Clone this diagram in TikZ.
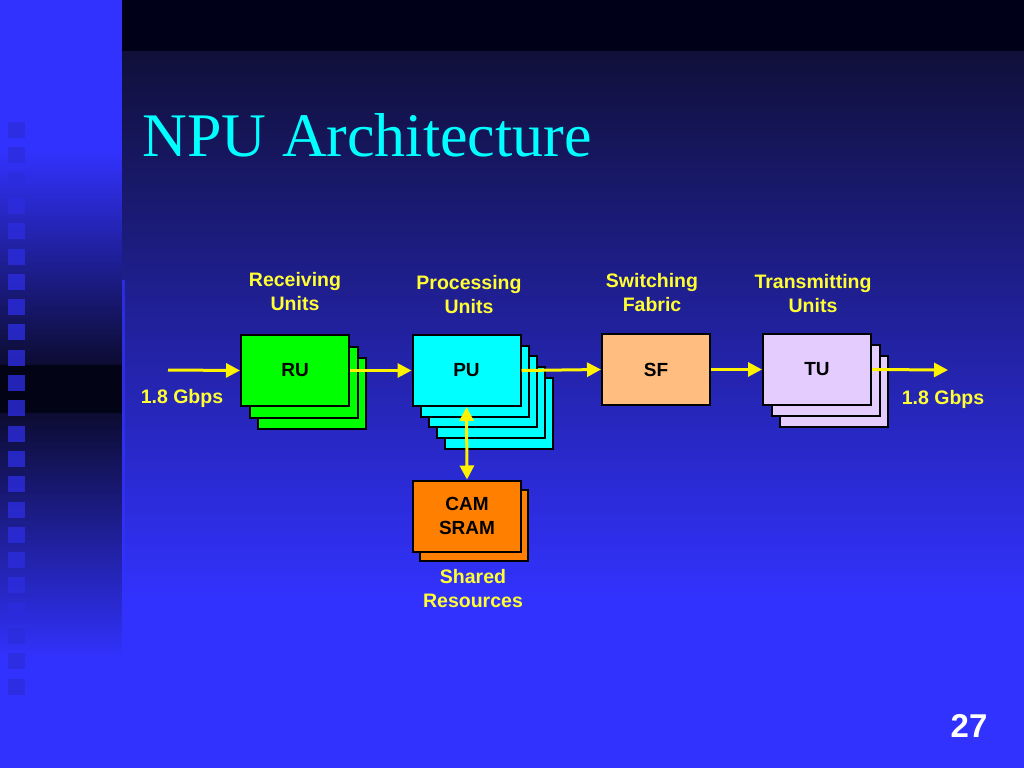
\documentclass[tikz,border=0pt]{standalone}
\usepackage{fontspec}
\setmainfont{Liberation Sans}
\newfontfamily\titlefont{Liberation Serif}
\usetikzlibrary{arrows.meta,positioning}
\definecolor{slideblue}{RGB}{50,50,255}
\definecolor{stripdark}{RGB}{12,12,50}
\definecolor{stripblack}{RGB}{3,3,22}
\definecolor{stripmark}{RGB}{44,44,222}
\definecolor{topdark}{RGB}{16,16,58}
\definecolor{bandblack}{RGB}{0,0,24}
\definecolor{labelyellow}{RGB}{255,255,51}
\definecolor{ruGreen}{RGB}{0,255,0}
\definecolor{puCyan}{RGB}{0,255,255}
\definecolor{sfPeach}{RGB}{255,190,128}
\definecolor{tuLilac}{RGB}{228,204,255}
\definecolor{camOrange}{RGB}{255,128,0}
\tikzset{
  unit/.style={draw=black, line width=2pt, minimum width=108pt, minimum height=71pt,
    inner sep=0pt, align=center, font=\fontsize{19}{24}\selectfont\bfseries},
  caption/.style={text=labelyellow, align=center, font=\fontsize{19.5}{24}\selectfont\bfseries},
  flow/.style={draw=yellow, line width=3pt, -{Triangle[length=14pt,width=14pt]}},
}

\begin{document}
\begin{tikzpicture}[x=1pt,y=-1pt]
  \useasboundingbox (0,0) rectangle (1024,768);
  % background
  \fill[slideblue] (0,0) rectangle (122,150);
  \shade[top color=slideblue, bottom color=stripdark] (0,150) rectangle (122,365);
  \fill[stripblack] (0,365) rectangle (122,413);
  \shade[top color=stripdark, bottom color=slideblue] (0,413) rectangle (122,660);
  \fill[slideblue] (0,660) rectangle (122,768);
  \fill[bandblack] (122,0) rectangle (1024,52);
  \shade[top color=topdark, bottom color=slideblue] (122,52) rectangle (1024,600);
  \fill[slideblue] (122,600) rectangle (1024,768);
  \fill[slideblue, opacity=0.7] (122,280) rectangle (125,768);
  \foreach \i in {0,...,22}{
      \fill[stripmark, opacity=0.8] (8,{122+25.3*\i}) rectangle ++(17,16);
  };

  \node[anchor=base west, text=puCyan, font=\titlefont\fontsize{62}{70}\selectfont] (title) at (139,156) {NPU Architecture};

  % stacked units
  \foreach \k in {2,1}{
      \pgfmathsetmacro\a{295+8.5*\k}
      \pgfmathsetmacro\b{370.5+11.5*\k}
      \node[unit, fill=ruGreen] (ru\k) at (\a,\b) {};
  };
  \node[unit, fill=ruGreen] (ru) at (295,370.5) {RU};
  \foreach \k in {4,...,1}{
      \pgfmathsetmacro\a{466.5+8*\k}
      \pgfmathsetmacro\b{370.5+10.7*\k}
      \node[unit, fill=puCyan] (pu\k) at (\a,\b) {};
  };
  \node[unit, fill=puCyan] (pu) at (466.5,370.5) {PU};
  \node[unit, fill=sfPeach] (sf) at (656,369.5) {SF};
  \foreach \k in {2,1}{
      \pgfmathsetmacro\a{817+8.5*\k}
      \pgfmathsetmacro\b{369.5+11*\k}
      \node[unit, fill=tuLilac] (tu\k) at (\a,\b) {};
  };
  \node[unit, fill=tuLilac] (tu) at (817,369.5) {TU};
  \node[unit, fill=camOrange] (cam1) at (473.5,525.5) {};
  \node[unit, fill=camOrange] (cam) at (467,516) {CAM\\SRAM};

  % captions
  \node[caption] (ruCap) at (295,292) {Receiving\\Units};
  \node[caption] (puCap) at (469,295) {Processing\\Units};
  \node[caption] (sfCap) at (652,293) {Switching\\Fabric};
  \node[caption] (tuCap) at (813,294) {Transmitting\\Units};
  \node[caption] (camCap) at (473,589) {Shared\\Resources};
  \node[caption] (rateIn) at (182,398) {1.8 Gbps};
  \node[caption] (rateOut) at (943,399) {1.8 Gbps};
  \node[text=white, font=\fontsize{33}{36}\selectfont\bfseries] (page) at (969,726) {27};

  % data flow
  \coordinate (inPt) at (168,370);
  \coordinate (outPt) at (948,370);
  \draw[flow] (inPt) -- (ru.west);
  \draw[flow] (ru.east) -- (pu.west);
  \draw[flow] (pu.east) -- (sf.west);
  \draw[flow] (sf.east) -- (tu.west);
  \draw[flow] (tu.east) -- (outPt);
  \draw[flow, {Triangle[length=14pt,width=14pt]}-{Triangle[length=14pt,width=14pt]}] (pu.south) -- (cam.north);
\end{tikzpicture}
\end{document}
